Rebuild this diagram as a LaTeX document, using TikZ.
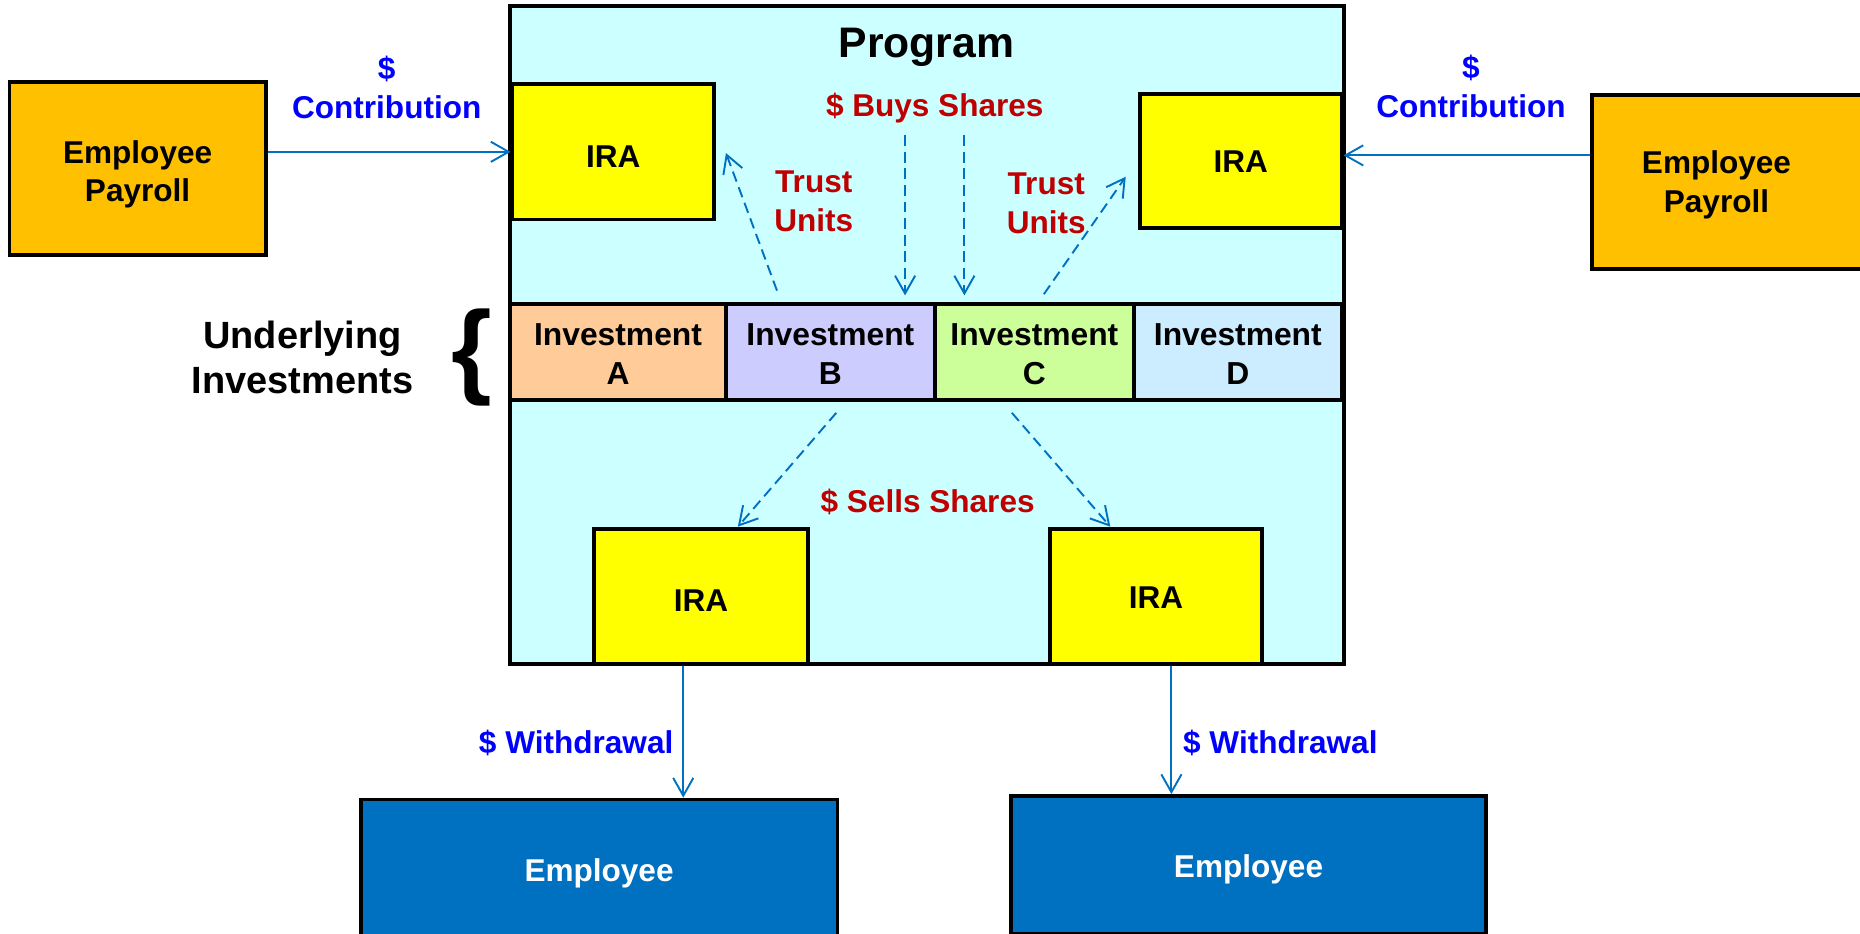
\documentclass[tikz,border=0pt]{standalone}
\usepackage{fontspec}
\setmainfont{Liberation Sans}
\usetikzlibrary{arrows.meta}
\definecolor{progfill}{HTML}{CCFFFF}
\definecolor{payroll}{HTML}{FFC000}
\definecolor{irayellow}{HTML}{FFFF00}
\definecolor{empblue}{HTML}{0070C0}
\definecolor{conn}{HTML}{0070C0}
\definecolor{lblue}{HTML}{0000FF}
\definecolor{lred}{HTML}{C00000}
\definecolor{invA}{HTML}{FFCC99}
\definecolor{invB}{HTML}{CCCCFF}
\definecolor{invC}{HTML}{CCFF99}
\definecolor{invD}{HTML}{CCECFF}
\newcommand\lowr[2][1.5pt]{\raisebox{-#1}[\height][\depth]{#2}}
\begin{document}
\begin{tikzpicture}[x=0.5pt,y=-0.5pt,
  box/.style={draw=black, line width=1.6pt, font=\fontsize{13.3}{16}\selectfont\bfseries, align=center, inner sep=0pt},
  txt/.style={font=\fontsize{13.3}{16.5}\selectfont\bfseries, align=center, inner sep=0pt},
  bluelbl/.style={txt, text=lblue},
  redlbl/.style={txt, text=lred},
  ira/.style={box, fill=irayellow},
  inv/.style={box, font=\fontsize{13.4}{16.5}\selectfont\bfseries, minimum height=40.5pt},
  flow/.style={draw=conn, line width=0.8pt, -{Straight Barb[length=7.5pt,width=8.5pt]}},
  dflow/.style={flow, dash pattern=on 4.5pt off 2.5pt}
]
\useasboundingbox (0,0) rectangle (1568,787);

% program container
\node[box, fill=progfill, minimum width=351.5pt, minimum height=277.5pt] (prog) at (781.5,282.5) {};
\node[txt, font=\fontsize{18}{20}\selectfont\bfseries] (title) at (781,40) {Program};

% employee payroll boxes
\node[box, fill=payroll, minimum width=108pt, minimum height=73pt] (payL) at (116,142) {\lowr[2.5pt]{Employee}\\\lowr[2.5pt]{Payroll}};
\node[box, fill=payroll, minimum width=118pt, minimum height=73.5pt] (payRbox) at (1460,153.5) {};
\node[txt] (payR) at (1447,156) {Employee\\Payroll};

% IRA boxes
\node[ira, minimum width=85pt, minimum height=57pt] (iraTL) at (517,128) {\lowr[2pt]{IRA}};
\node[ira, minimum width=85pt, minimum height=56.5pt] (iraTR) at (1046,135.5) {\lowr[0.5pt]{IRA}};
\node[ira, minimum width=90pt, minimum height=57pt] (iraBL) at (591,503) {\lowr[1.5pt]{IRA}};
\node[ira, minimum width=89.5pt, minimum height=57pt] (iraBR) at (974.5,503) {\lowr[0.5pt]{IRA}};

% investments
\node[inv, fill=invA, minimum width=91pt] (invA) at (521,296.5) {\lowr[1pt]{Investment}\\\lowr[1pt]{A}};
\node[inv, fill=invB, minimum width=88pt] (invB) at (700,296.5) {\lowr[1pt]{Investment}\\\lowr[1pt]{B}};
\node[inv, fill=invC, minimum width=84pt] (invC) at (872,296.5) {\lowr[1pt]{Investment}\\\lowr[1pt]{C}};
\node[inv, fill=invD, minimum width=87.5pt] (invD) at (1043.5,296.5) {\lowr[1pt]{Investment}\\\lowr[1pt]{D}};

% employees
\node[box, fill=empblue, text=white, minimum width=201pt, minimum height=59pt] (empL) at (505,733) {\lowr[1.5pt]{Employee}};
\node[box, fill=empblue, text=white, minimum width=200.5pt, minimum height=58pt] (empR) at (1052.5,729) {\lowr[2pt]{Employee}};

% underlying investments
\node[txt, font=\fontsize{16}{19}\selectfont\bfseries] (under) at (255,301) {Underlying\\Investments};
\node[inner sep=0pt, font=\fontsize{44}{44}\selectfont\bfseries] (brace) at (398,301) {\{};

% labels
\node[bluelbl] (contL) at (326,73.5) {\$\\Contribution};
\node[bluelbl] (contR) at (1240,73) {\$\\Contribution};
\node[redlbl] (buys) at (788,91) {\$ Buys Shares};
\node[redlbl] (tuL) at (686,170) {Trust\\Units};
\node[redlbl] (tuR) at (882,171.5) {Trust\\Units};
\node[redlbl] (sells) at (782,423) {\$ Sells Shares};
\node[bluelbl, anchor=east] (wdL) at (568,626) {\$ Withdrawal};
\node[bluelbl, anchor=west] (wdR) at (997,626) {\$ Withdrawal};

% free-end coordinates
\coordinate (cRy) at (0,131);
\coordinate (tlS) at (655,245);
\coordinate (tlE) at (612,129);
\coordinate (trS) at (880,248);
\coordinate (trE) at (949,149);
\coordinate (bLS) at (763,114);
\coordinate (bLE) at (763,249);
\coordinate (bRS) at (813,114);
\coordinate (bRE) at (813,249);
\coordinate (sLS) at (705,348);
\coordinate (sLE) at (622,444);
\coordinate (sRS) at (853,348);
\coordinate (sRE) at (936,444);

% solid connectors
\draw[flow] (payL.east |- iraTL.west) -- (iraTL.west);
\draw[flow] (payRbox.west |- cRy) -- (iraTR.east |- cRy);
\draw[flow] ([xshift=-7.5pt]iraBL.south) -- ([xshift=-7.5pt]iraBL.south |- empL.north);
\draw[flow] ([xshift=6.5pt]iraBR.south) -- ([xshift=6.5pt]iraBR.south |- empR.north);

% dashed connectors
\draw[dflow] (tlS) -- (tlE);
\draw[dflow] (trS) -- (trE);
\draw[dflow] (bLS) -- (bLE);
\draw[dflow] (bRS) -- (bRE);
\draw[dflow] (sLS) -- (sLE);
\draw[dflow] (sRS) -- (sRE);
\end{tikzpicture}
\end{document}
